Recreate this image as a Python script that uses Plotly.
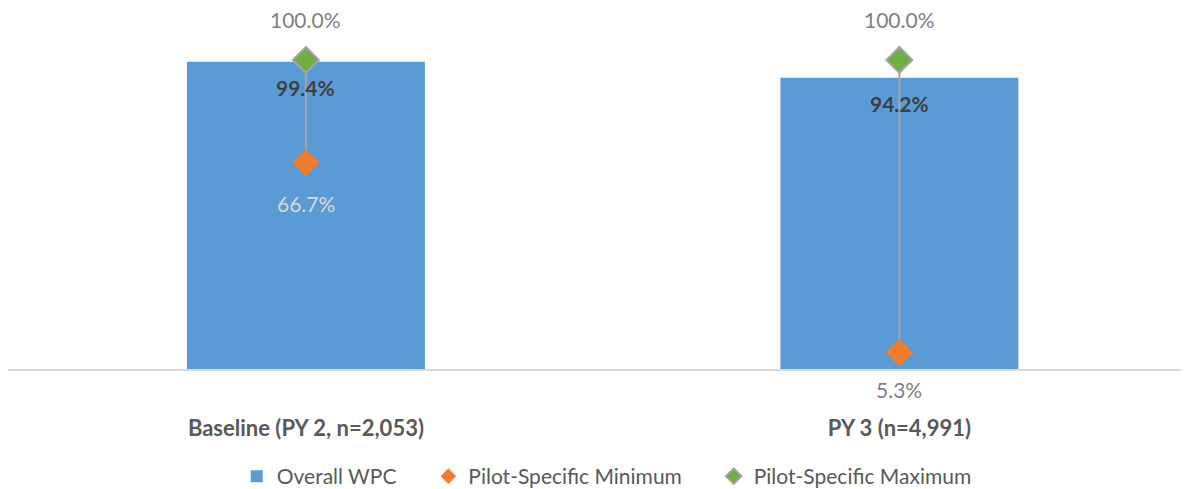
import plotly.graph_objects as go

categories = ["Baseline (PY 2, n=2,053)", "PY 3 (n=4,991)"]
overall_wpc = [99.4, 94.2]
pilot_min = [66.7, 5.3]
pilot_max = [100.0, 100.0]

FONT = "Lato"
GREY = "#A5A5A5"
PAD = "\u00a0" * 5  # extra room between legend entries

fig = go.Figure()

fig.add_trace(go.Bar(
    x=categories, y=overall_wpc, name="Overall WPC" + PAD,
    marker=dict(color="#5B9BD5", line=dict(width=0)),
    width=0.401,
))

# grey line from min to max, drawn as error bar on the max points
fig.add_trace(go.Scatter(
    x=categories, y=pilot_max, mode="markers", showlegend=False,
    marker=dict(size=0.1, color="rgba(0,0,0,0)"),
    error_y=dict(type="data", symmetric=False,
                 array=[0, 0],
                 arrayminus=[mx - mn for mx, mn in zip(pilot_max, pilot_min)],
                 color=GREY, thickness=2, width=0),
    hoverinfo="skip",
))

fig.add_trace(go.Scatter(
    x=categories, y=pilot_min, mode="markers", name="Pilot-Specific Minimum" + PAD,
    marker=dict(symbol="diamond", size=21, color="#ED7D31", line=dict(width=0)),
))
fig.add_trace(go.Scatter(
    x=categories, y=pilot_max, mode="markers", name="Pilot-Specific Maximum",
    marker=dict(symbol="diamond", size=20, color="#70AD47", line=dict(width=2, color=GREY)),
))

# data labels
for c, v in zip(categories, overall_wpc):
    fig.add_annotation(x=c, y=v, text=f"<b>{v:.1f}%</b>", showarrow=False,
                       yshift=-26, font=dict(size=21, color="#404040", family=FONT))
for c, v in zip(categories, pilot_max):
    fig.add_annotation(x=c, y=v, text=f"{v:.1f}%", showarrow=False,
                       yshift=40, font=dict(size=21, color="#7F7F7F", family=FONT))
min_colors = ["#D9D9D9", "#7F7F7F"]
min_shifts = [-41, -37]
for c, v, col, sh in zip(categories, pilot_min, min_colors, min_shifts):
    fig.add_annotation(x=c, y=v, text=f"{v:.1f}%", showarrow=False,
                       yshift=sh, font=dict(size=21, color=col, family=FONT))

fig.update_layout(
    width=1189, height=489,
    margin=dict(l=0, r=8, t=21, b=128),
    plot_bgcolor="white", paper_bgcolor="white",
    font=dict(family=FONT, size=18, color="#595959"),
    showlegend=True,
    legend=dict(orientation="h", x=0.507, xanchor="center", y=-0.318, yanchor="middle",
                font=dict(size=21, color="#595959"), itemsizing="constant",
                traceorder="normal"),
    bargap=0.6,
)
fig.update_xaxes(
    range=[-0.502, 1.488], showline=True, linecolor="#D9D9D9", linewidth=2,
    showgrid=False, ticks="", ticklabelstandoff=39,
    tickfont=dict(size=22, color="#595959", family=FONT),
    tickvals=categories, ticktext=[f"<b>{c}</b>" for c in categories],
)
fig.update_yaxes(range=[0, 110], visible=False, showgrid=False, zeroline=False)

fig.write_html("out.html")
